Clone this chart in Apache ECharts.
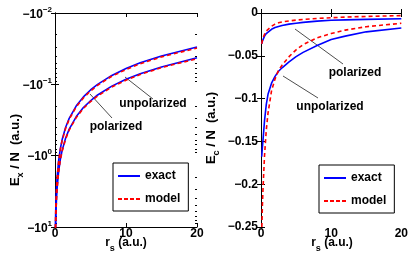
<!DOCTYPE html>
<html><head><meta charset="utf-8">
<script src="https://cdn.jsdelivr.net/npm/echarts@6/dist/echarts.min.js"></script>
<style>html,body{margin:0;padding:0;background:#fff}#c{width:411px;height:258px}</style>
</head><body><div id="c"></div>
<script>
// ---- Left panel: exchange energy per particle (a.u.) ----
const rsX = [0.06, 0.085, 0.1, 0.15, 0.2, 0.3, 0.5, 0.75, 1, 1.5, 2, 3, 4, 5, 6, 8, 10, 12, 15, 20];
const exUnpolExact = [-10.0, -7.06, -6.0, -4.0, -3.0, -2.0, -1.2, -0.80, -0.60, -0.40, -0.30, -0.20, -0.150, -0.120, -0.100, -0.075, -0.060, -0.050, -0.040, -0.030];
const exUnpolModel = [-10.3, -7.27, -6.18, -4.12, -3.09, -2.06, -1.24, -0.824, -0.618, -0.412, -0.309, -0.206, -0.155, -0.124, -0.103, -0.077, -0.062, -0.0515, -0.0412, -0.031];
const exPolExact = [null, -10.0, -8.49, -5.66, -4.24, -2.83, -1.70, -1.13, -0.849, -0.566, -0.424, -0.283, -0.212, -0.170, -0.141, -0.106, -0.085, -0.071, -0.057, -0.0424];
const exPolModel = [null, -10.3, -8.74, -5.83, -4.37, -2.91, -1.75, -1.16, -0.874, -0.583, -0.437, -0.291, -0.218, -0.175, -0.146, -0.109, -0.0874, -0.0728, -0.0583, -0.0437];
const exTickValues = [-0.01, -0.1, -1, -10];
const exMinorTicks = [0.02, 0.03, 0.04, 0.05, 0.06, 0.07, 0.08, 0.09, 0.2, 0.3, 0.4, 0.5, 0.6, 0.7, 0.8, 0.9, 2, 3, 4, 5, 6, 7, 8, 9];

// ---- Right panel: correlation energy per particle (a.u.) ----
const rsC = [0.1, 0.12, 0.2, 0.3, 0.5, 0.75, 1, 1.5, 2, 2.5, 3, 4, 5, 6, 8, 10, 12, 15, 20];
const ecUnpolExact = [-0.168, null, -0.157, -0.147, -0.126, -0.107, -0.095, -0.082, -0.074, -0.068, -0.064, -0.057, -0.051, -0.046, -0.038, -0.031, -0.027, -0.022, -0.0176];
const ecUnpolModel = [null, -0.25, -0.225, -0.203, -0.167, -0.137, -0.117, -0.091, -0.077, -0.067, -0.061, -0.051, -0.043, -0.037, -0.029, -0.024, -0.020, -0.016, -0.012];
const ecPolExact = [-0.036, null, -0.033, -0.031, -0.027, -0.024, -0.022, -0.019, -0.017, -0.0157, -0.0146, -0.013, -0.012, -0.011, -0.0095, -0.0085, -0.008, -0.0074, -0.0068];
const ecPolModel = [-0.036, null, -0.032, -0.029, -0.025, -0.021, -0.019, -0.0155, -0.013, -0.0115, -0.0105, -0.0092, -0.0083, -0.0075, -0.0063, -0.0055, -0.0048, -0.004, -0.003];
const ecTicks = [0, -0.05, -0.1, -0.15, -0.2, -0.25];
const rsTicks = [0, 10, 20];

const FONT = 'Liberation Sans';
const BLUE = '#0000ff', RED = '#ff0000';
// log axis holds magnitudes of the (negative) exchange energies
const pairs = (xs, ys, f) => xs.map((x, i) => ys[i] == null ? null : [x, f ? f(ys[i]) : ys[i]]).filter(p => p);
const mag = v => Math.abs(v);

const lbl = {fontFamily: FONT, fontWeight: 'bold', fontSize: 12, color: '#000'};
const tick = {show: true, inside: true, length: 4, lineStyle: {color: '#000', width: 1}};
const line = {show: true, lineStyle: {color: '#000', width: 1}};

function xAxes(grid) {
  return [
    {type: 'value', gridIndex: grid, min: rsTicks[0], max: rsTicks[rsTicks.length - 1], interval: 10,
     axisLine: line, axisTick: tick, splitLine: {show: false},
     axisLabel: Object.assign({margin: 1}, lbl)},
    {type: 'value', gridIndex: grid, position: 'top', min: rsTicks[0], max: rsTicks[rsTicks.length - 1], interval: 10,
     axisLine: line, axisTick: tick, splitLine: {show: false}, axisLabel: {show: false}}
  ];
}
const expFmt = v => '{a|−10}{b|' + String(Math.round(Math.log10(v))).replace('-', '−') + '}';
const logMin = mag(exTickValues[0]), logMax = mag(exTickValues[exTickValues.length - 1]);
const minorLogAxis = pos => ({type: 'log', logBase: 10, gridIndex: 0, position: pos, offset: 0, min: logMin, max: logMax, inverse: true,
  axisLine: {show: false}, splitLine: {show: false}, axisLabel: {show: false},
  axisTick: {show: true, inside: true, length: 2, customValues: exMinorTicks, lineStyle: {color: '#000', width: 1}}});

const legendBase = {orient: 'vertical', backgroundColor: '#fff', borderColor: '#000', borderWidth: 1,
  padding: [6, 8, 5, 5], itemWidth: 22, itemHeight: 2, itemGap: 9, selectedMode: false, symbolKeepAspect: false,
  textStyle: Object.assign({lineHeight: 14, padding: [0, 0, 0, 0]}, lbl),
  data: [{name: 'exact', icon: 'path://M0,0H22V2H0Z'},
         {name: 'model', icon: 'path://M0,0H4V2H0Z M6,0H10V2H6Z M12,0H16V2H12Z M18,0H22V2H18Z'}]};

const option = {
  animation: false,
  backgroundColor: '#fff',
  grid: [
    {left: 55, top: 13, width: 142, height: 214},
    {left: 261, top: 13, width: 142, height: 214}
  ],
  xAxis: [...xAxes(0), ...xAxes(1)],
  yAxis: [
    {type: 'log', logBase: 10, gridIndex: 0, min: logMin, max: logMax, inverse: true,
     axisLine: line, axisTick: tick, splitLine: {show: false},
     axisLabel: {margin: 3, formatter: expFmt,
       rich: {a: Object.assign({verticalAlign: 'bottom'}, lbl),
              b: {fontFamily: FONT, fontWeight: 'bold', fontSize: 8, color: '#000', verticalAlign: 'bottom', padding: [0, 0, 7, 0]}}}},
    {type: 'log', logBase: 10, gridIndex: 0, position: 'right', min: logMin, max: logMax, inverse: true,
     axisLine: line, axisTick: tick, splitLine: {show: false}, axisLabel: {show: false}},
    {type: 'value', gridIndex: 1, min: ecTicks[ecTicks.length - 1], max: ecTicks[0], interval: 0.05,
     axisLine: line, axisTick: tick, splitLine: {show: false},
     axisLabel: Object.assign({margin: 3, formatter: v => v === 0 ? '0' : Number(v.toFixed(2)).toString().replace('-', '−')}, lbl)},
    {type: 'value', gridIndex: 1, position: 'right', min: ecTicks[ecTicks.length - 1], max: ecTicks[0], interval: 0.05,
     axisLine: line, axisTick: tick, splitLine: {show: false}, axisLabel: {show: false}},
    minorLogAxis('left'), minorLogAxis('right')
  ],
  legend: [
    Object.assign({left: 113, top: 163}, legendBase),
    Object.assign({left: 319, top: 165}, legendBase)
  ],
  series: [
    {name: 'exact', type: 'line', xAxisIndex: 0, yAxisIndex: 0, data: pairs(rsX, exUnpolExact, mag), symbol: 'none', lineStyle: {color: BLUE, width: 1.6}, itemStyle: {color: BLUE}},
    {name: 'exact', type: 'line', xAxisIndex: 0, yAxisIndex: 0, data: pairs(rsX, exPolExact, mag), symbol: 'none', lineStyle: {color: BLUE, width: 1.6}, itemStyle: {color: BLUE}},
    {name: 'model', type: 'line', xAxisIndex: 0, yAxisIndex: 0, data: pairs(rsX, exUnpolModel, mag), symbol: 'none', lineStyle: {color: RED, width: 1.6, type: [4, 3]}, itemStyle: {color: RED}},
    {name: 'model', type: 'line', xAxisIndex: 0, yAxisIndex: 0, data: pairs(rsX, exPolModel, mag), symbol: 'none', lineStyle: {color: RED, width: 1.6, type: [4, 3]}, itemStyle: {color: RED}},
    {name: 'exact', type: 'line', xAxisIndex: 2, yAxisIndex: 2, data: pairs(rsC, ecUnpolExact), symbol: 'none', lineStyle: {color: BLUE, width: 1.6}, itemStyle: {color: BLUE}},
    {name: 'exact', type: 'line', xAxisIndex: 2, yAxisIndex: 2, data: pairs(rsC, ecPolExact), symbol: 'none', lineStyle: {color: BLUE, width: 1.6}, itemStyle: {color: BLUE}},
    {name: 'model', type: 'line', xAxisIndex: 2, yAxisIndex: 2, data: pairs(rsC, ecUnpolModel), symbol: 'none', lineStyle: {color: RED, width: 1.6, type: [4, 3]}, itemStyle: {color: RED}},
    {name: 'model', type: 'line', xAxisIndex: 2, yAxisIndex: 2, data: pairs(rsC, ecPolModel), symbol: 'none', lineStyle: {color: RED, width: 1.6, type: [4, 3]}, itemStyle: {color: RED}}
  ],
  graphic: (function () {
    const txtFont = 'bold 12px "' + FONT + '"';
    const t = (text, x, y, extra) => Object.assign({type: 'text', x: x, y: y, silent: true,
      style: {text: text, font: txtFont, fill: '#000', textAlign: 'center', textVerticalAlign: 'middle'}}, extra || {});
    const l = (x1, y1, x2, y2) => ({type: 'line', silent: true, shape: {x1, y1, x2, y2}, style: {stroke: '#000', lineWidth: 0.7}});
    const richName = (main, sub, rest, size) => ({
      text: '{a|' + main + '}{s|' + sub + '}{a|' + rest + '}',
      rich: {a: {fontFamily: FONT, fontWeight: 'bold', fontSize: size, fill: '#000', verticalAlign: 'top'},
             s: {fontFamily: FONT, fontWeight: 'bold', fontSize: 9, fill: '#000', verticalAlign: 'top', padding: [Math.round(size * 0.55), 0, 0, 0]}},
      textAlign: 'center', textVerticalAlign: 'middle'
    });
    return [
      t('unpolarized', 153, 104), t('polarized', 116, 127),
      l(125, 77, 153, 99), l(90, 94, 112, 118),
      t('polarized', 355, 73), t('unpolarized', 330, 107),
      l(295, 29, 343, 64), l(283, 76, 318, 98),
      {type: 'text', x: 126, y: 245, silent: true, style: richName('r', 's', ' (a.u.)', 12)},
      {type: 'text', x: 332, y: 245, silent: true, style: richName('r', 's', ' (a.u.)', 12)},
      {type: 'text', x: 17, y: 150, rotation: Math.PI / 2, silent: true, style: richName('E', 'x', ' / N  (a.u.)', 13)},
      {type: 'text', x: 213, y: 128, rotation: Math.PI / 2, silent: true, style: richName('E', 'c', ' / N  (a.u.)', 13)}
    ];
  })()
};
const chart = echarts.init(document.getElementById('c'));
chart.setOption(option);
</script>
</body></html>
